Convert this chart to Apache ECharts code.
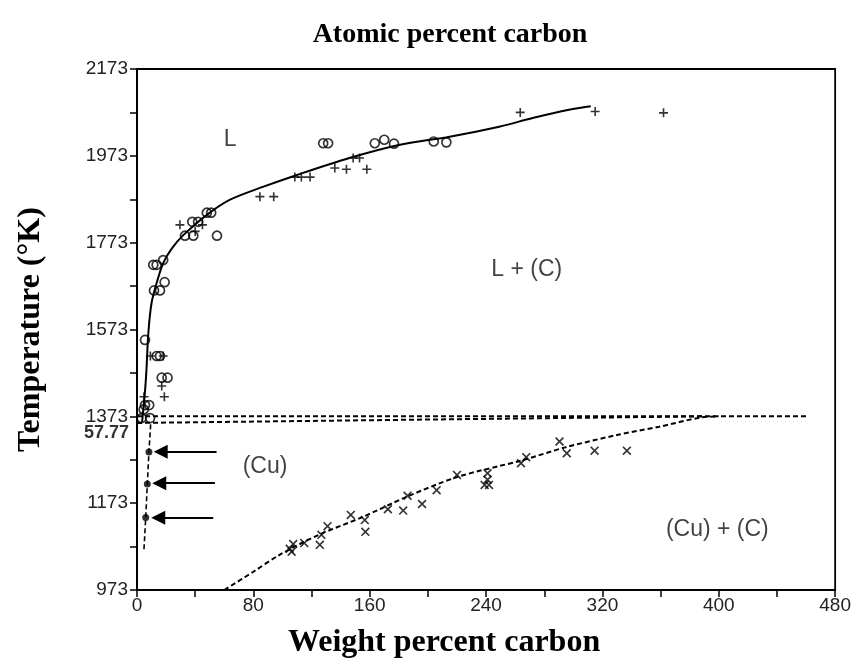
<!DOCTYPE html>
<html>
<head>
<meta charset="utf-8">
<script src="https://cdn.jsdelivr.net/npm/echarts@6/dist/echarts.min.js"></script>
<style>html,body{margin:0;padding:0;background:#fff}#c{width:854px;height:664px}</style>
</head>
<body>
<div id="c"></div>
<script>
// ---- data ----
const liquidus = [[3.5,1360],[4.5,1395],[5.5,1430],[6.5,1480],[7.8,1565],[10,1634],[13.5,1680],[18,1726],[24,1760],[32,1791],[48,1837],[64,1872],[87,1902],[110,1929],[146,1968],[180,1998],[215,2017],[249,2040],[272,2060],[297,2079],[312,2087]];
const solvus = [[60,973],[80,1015],[98,1054],[125,1100],[155,1141],[185,1187],[220,1233],[265,1272],[295,1302],[330,1330],[359,1349],[387,1370],[400,1373]];
const line1373 = [[0,1373],[460,1373]];
const line1357 = [[0,1357.77],[390,1373]];
const cuSolvus = [[4.8,1067],[6,1140],[7.1,1217],[8.2,1291],[9.5,1361]];
const cuDots = [[6,1140],[7.1,1217],[8.2,1291]];
const circleData = [[11.2,1722],[13.5,1722],[18,1733],[11.7,1663],[15.8,1663],[19,1682],[5.5,1549],[13.5,1512],[15.8,1512],[17,1462],[21,1462],[5.5,1399],[8.4,1399],[4.6,1389],[3.2,1369],[9,1369],[33,1789],[38.7,1789],[55,1789],[38,1821],[42,1821],[48,1842],[51,1842],[128,2002],[131.4,2002],[163.5,2002],[170,2010],[176.7,2001],[204,2006],[212.7,2004]];
const plusData = [[9.2,1512],[18,1512],[17,1443],[18.8,1418],[4.8,1418],[29.5,1814],[45,1814],[40,1799],[84.5,1879],[94,1879],[108.5,1924],[113,1924],[119,1924],[136,1945],[144,1942],[158,1942],[148.6,1968],[153,1968],[263.5,2073],[315,2075],[362,2072]];
const crossData = [[107.4,1079],[106.3,1061],[105,1068],[115,1081],[125.7,1077],[126.8,1100],[131,1120],[147,1146],[156.6,1134],[157,1107],[172.5,1159],[183,1156],[186,1190],[196,1171],[206,1203],[220,1238],[239,1215],[242,1215],[241,1242],[241,1227],[264,1265],[267.6,1279],[290.5,1315],[295.5,1288],[314.6,1294],[336.8,1294]];
const arrowY = [1291.7,1218.9,1139.6];
const arrowTail = [54.7,53.6,52.4];
const arrowTip = [16.3,15.3,14.6];
const regionNames = ['L','L + (C)','(Cu)','(Cu) + (C)'];
const regionPos = [[64,2010],[268,1710],[88,1256],[399,1111]];
const eutecticLabel = ['57.77'];
const eutecticPos = [[0,1357.77]];
const xMin = 0, xMax = 480, xStep = 40, xLabelStep = 80;
const yMin = 973, yMax = 2173, yStep = 100, yLabelStep = 200;

// ---- chart ----
const chart = echarts.init(document.getElementById('c'), null, {renderer:'canvas'});
const PLUS = 'path://M4.1,0H5.9V10H4.1Z M0,4.1H10V5.9H0Z';
const CROSS = 'path://M0,1.3L1.3,0L10,8.7L8.7,10Z M8.7,0L10,1.3L1.3,10L0,8.7Z';
const dash = [5,3];
const sans = 'Liberation Sans, Arial, sans-serif';
const serif = 'Liberation Serif, Times New Roman, serif';

const series = [
  {type:'line', data:liquidus, smooth:0.3, showSymbol:false, lineStyle:{color:'#000',width:2}, z:3, silent:true},
  {type:'line', data:solvus, smooth:0.3, showSymbol:false, lineStyle:{color:'#000',width:2,type:dash}, z:3},
  {type:'line', data:line1373, showSymbol:false, lineStyle:{color:'#000',width:2,type:dash}, z:3},
  {type:'line', data:line1357, showSymbol:false, lineStyle:{color:'#000',width:2,type:dash}, z:3},
  {type:'line', data:cuSolvus, showSymbol:false, lineStyle:{color:'#000',width:1.6,type:dash}, z:3},
  {type:'scatter', data:cuDots, symbol:'circle', symbolSize:7, itemStyle:{color:'#000'}, z:4},
  {type:'scatter', data:circleData, symbol:'circle', symbolSize:9, itemStyle:{color:'rgba(0,0,0,0)',borderColor:'#000',borderWidth:1.7}, z:4},
  {type:'scatter', data:plusData, symbol:PLUS, symbolSize:9, itemStyle:{color:'#000'}, z:4},
  {type:'scatter', data:crossData, symbol:CROSS, symbolSize:9, itemStyle:{color:'#000'}, z:4},
  {type:'lines', coordinateSystem:'cartesian2d', z:4,
    symbol:['none','triangle'], symbolSize:[15,14],
    lineStyle:{color:'#000',width:2,opacity:1},
    data: arrowY.map((y,i)=>({coords:[[arrowTail[i],y],[arrowTip[i],y]]}))},
  {type:'scatter', data:regionPos.map((p,i)=>({value:p,name:regionNames[i]})), symbolSize:0, z:5,
    label:{show:true, position:'inside', formatter:p=>p.name, color:'#111', fontFamily:sans, fontSize:23}},
  {type:'scatter', data:eutecticPos.map((p,i)=>({value:p,name:eutecticLabel[i]})), symbolSize:0, z:5, clip:false,
    label:{show:true, position:'left', distance:8, offset:[0,10], formatter:p=>p.name, color:'#000', fontFamily:sans, fontSize:18, fontWeight:'bold'}}
];

chart.setOption({
  animation:false,
  backgroundColor:'#fff',
  title:{text:'Atomic percent carbon', left:445, textAlign:'center', top:16,
    textStyle:{fontFamily:serif, fontWeight:'bold', fontSize:28, color:'#000'}},
  grid:{left:137, right:18, top:69, bottom:74, show:true, borderColor:'#000', borderWidth:1.8, containLabel:false},
  xAxis:{type:'value', min:xMin, max:xMax, interval:xStep,
    name:'Weight percent carbon', nameLocation:'middle', nameGap:37,
    nameTextStyle:{fontFamily:serif, fontWeight:'bold', fontSize:32, color:'#000', padding:[0,84,0,0]},
    axisLine:{show:true, lineStyle:{color:'#000', width:2}},
    axisTick:{show:true, inside:false, length:7, lineStyle:{color:'#000', width:1.5}},
    splitLine:{show:false},
    axisLabel:{color:'#222', fontFamily:sans, fontSize:19, margin:6,
      formatter:v=> (Math.round(v - xMin) % xLabelStep === 0) ? String(v) : ''}},
  yAxis:{type:'value', min:yMin, max:yMax, interval:yStep,
    name:'Temperature (°K)', nameLocation:'middle', nameGap:90,
    nameTextStyle:{fontFamily:serif, fontWeight:'bold', fontSize:32, color:'#000'},
    axisLine:{show:true, lineStyle:{color:'#000', width:2}},
    axisTick:{show:true, inside:false, length:7, lineStyle:{color:'#000', width:1.5}},
    splitLine:{show:false},
    axisLabel:{color:'#222', fontFamily:sans, fontSize:19, margin:9,
      formatter:v=> (Math.round(v - yMin) % yLabelStep === 0) ? String(v) : ''}},
  series: series
});
</script>
</body>
</html>
